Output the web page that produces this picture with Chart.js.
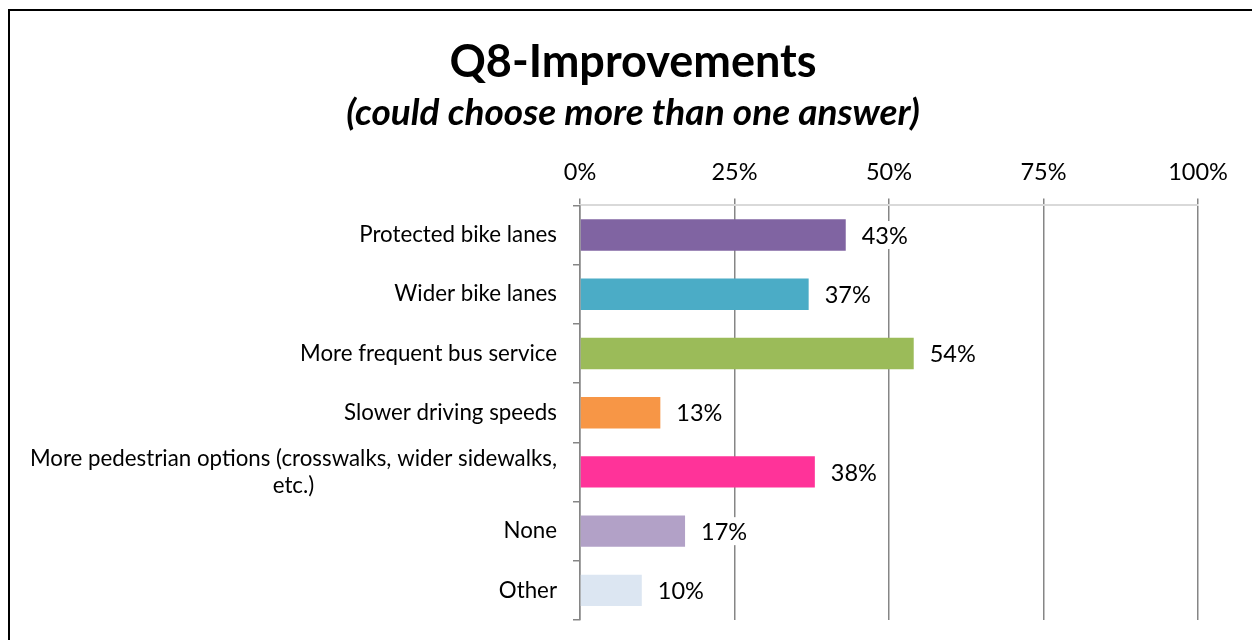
<!DOCTYPE html>
<html>
<head>
<meta charset="utf-8">
<script src="https://cdn.jsdelivr.net/npm/chart.js@4/dist/chart.umd.min.js"></script>
<style>
    html, body {margin:0; padding:0; background:#fff; overflow:hidden;}
    #frame {position:absolute; left:8px; top:9px; width:2000px; height:2000px; border:2px solid #000;}
    #chartBox {position:absolute; left:0; top:0; width:1252px; height:640px;}
</style>
</head>
<body>
<div id="frame"></div>
<div id="chartBox"><canvas id="improvChart"></canvas></div>
<script>
var categories = [
    'Protected bike lanes',
    'Wider bike lanes',
    'More frequent bus service',
    'Slower driving speeds',
    ['More pedestrian options (crosswalks, wider sidewalks,', 'etc.)'],
    'None',
    'Other'
];
var percents = [43, 37, 54, 13, 38, 17, 10];
var barColors = ['#8064a2', '#4bacc6', '#9bbb59', '#f79646', '#ff3399', '#b2a1c7', '#dce6f2'];
var xTicks = [0, 25, 50, 75, 100];

var fontName = 'Lato, "Noto Sans", sans-serif';
var padLeft = 68; // keeps the title centred on the frame, not on the plot

//-----------value labels next to the bars (white box cuts the gridline)----
var valueLabels = {
    id: 'valueLabels',
    afterDatasetsDraw: function(chart) {
        var ctx = chart.ctx;
        var meta = chart.getDatasetMeta(0);
        ctx.save();
        ctx.font = '23.5px ' + fontName;
        ctx.textBaseline = 'middle';
        ctx.textAlign = 'left';
        meta.data.forEach(function(bar, i) {
            var txt = percents[i] + '%';
            var w = ctx.measureText(txt).width;
            var x = bar.x + 16;
            ctx.fillStyle = '#fff';
            ctx.fillRect(x - 4, bar.y - 14, w + 8, 28);
            ctx.fillStyle = '#000';
            ctx.fillText(txt, x, bar.y + 1);
        });
        ctx.restore();
    }
};

//-----------category labels, lines centred on each other------------------
var catLabels = {
    id: 'catLabels',
    afterDraw: function(chart) {
        var ctx = chart.ctx;
        var y = chart.scales.y;
        ctx.save();
        ctx.font = '22.3px ' + fontName;
        ctx.fillStyle = '#000';
        ctx.textBaseline = 'middle';
        categories.forEach(function(cat, i) {
            var lines = Array.isArray(cat) ? cat : [cat];
            var widths = lines.map(function(l) { return ctx.measureText(l).width; });
            var maxW = Math.max.apply(null, widths);
            var right = y.right - 23;
            var mid = right - maxW / 2;
            var py = y.getPixelForValue(i);
            var lh = 27;
            var top = py - (lines.length - 1) * lh / 2;
            ctx.textAlign = 'center';
            lines.forEach(function(l, k) {
                ctx.fillText(l, lines.length > 1 ? mid : right - widths[k] / 2, top + k * lh);
            });
        });
        ctx.restore();
    }
};

var ctxImprov = document.getElementById('improvChart');
var chartImprov = new Chart(ctxImprov, {
    type: 'bar',
    data: {
        labels: categories,
        datasets: [{
            data: percents,
            backgroundColor: barColors,
            borderWidth: 0,
            barPercentage: 0.53,
            categoryPercentage: 1
        }]
    },
    plugins: [valueLabels, catLabels],
    options: {
        indexAxis: 'y',
        responsive: true,
        maintainAspectRatio: false,
        animation: false,
        layout: {padding: {top: 0, left: padLeft, right: 54, bottom: 20}},
        plugins: {
            legend: {display: false},
            tooltip: {enabled: false},
            title: {
                display: true,
                text: 'Q8-Improvements',
                color: '#000',
                font: {family: fontName, size: 45, weight: 'bold'},
                padding: {top: 35, bottom: 0}
            },
            subtitle: {
                display: true,
                text: '(could choose more than one answer)',
                color: '#000',
                font: {family: fontName, size: 37, weight: 'bold', style: 'italic'},
                padding: {top: 2, bottom: 0}
            }
        },
        scales: {
            x: {
                position: 'top',
                min: 0,
                max: 100,
                afterBuildTicks: function(scale) {
                    scale.ticks = xTicks.map(function(v) { return {value: v}; });
                },
                afterFit: function(scale) { scale.height = 70; },
                ticks: {
                    color: '#000',
                    padding: 12,
                    font: {family: fontName, size: 23.5},
                    callback: function(v) { return v + '%'; }
                },
                grid: {color: '#868686', lineWidth: 1.5, tickLength: 7},
                border: {color: '#d9d9d9', width: 2}
            },
            y: {
                afterFit: function(scale) { scale.width = 580 - padLeft; },
                ticks: {color: 'rgba(0,0,0,0)', font: {family: fontName, size: 19}},
                grid: {offset: true, drawOnChartArea: false, color: '#868686', lineWidth: 1.5, tickLength: 7},
                border: {color: '#868686', width: 1.5}
            }
        }
    }
});
</script>
</body>
</html>
